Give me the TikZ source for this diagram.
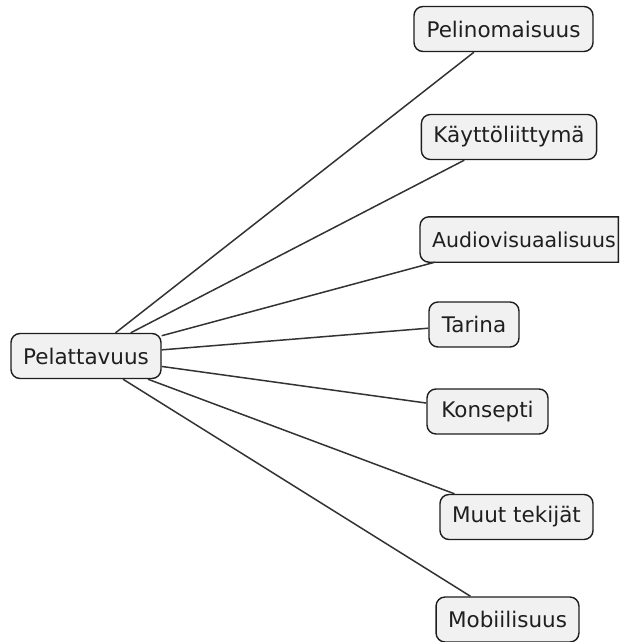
\documentclass[tikz,border=0pt]{standalone}
\usepackage{fontspec}
\setmainfont{DejaVu Sans}
\begin{document}
\begin{tikzpicture}[x=1pt,y=-1pt,
  label font/.style={font=\fontsize{21.5}{25}\selectfont, text=black!88},
  topic/.style={draw=boxedge, fill=boxfill, line width=1.4pt, rounded corners=9pt,
    minimum height=45pt, inner xsep=12pt, inner ysep=0pt, label font},
  link/.style={draw=linkcol, line width=1.5pt}]
\definecolor{boxedge}{HTML}{1E1E1E}
\definecolor{boxfill}{HTML}{F1F1F1}
\definecolor{linkcol}{HTML}{333333}
\useasboundingbox (0,0) rectangle (622,642);

% root
\node[topic, minimum width=150pt] (root) at (86,356) {Pelattavuus};

% branches
\node[topic, minimum width=179pt] (b1) at (503.5,29) {Pelinomaisuus};
\node[topic, minimum width=172pt] (b2) at (509,137) {Käyttöliittymä};
\node[anchor=west, inner sep=0pt, minimum height=45pt, minimum width=198pt]
  (b3) at (420,239.5) {};
\node[topic, minimum width=90pt] (b4) at (474,324.5) {Tarina};
\node[topic, minimum width=121pt] (b5) at (487.5,411.5) {Konsepti};
\node[topic, minimum width=153pt] (b6) at (516.5,517) {Muut tekijät};
\node[topic, minimum width=141pt] (b7) at (507.5,619.5) {Mobiilisuus};

% the wide box runs into the right margin and is cut square there
\draw[draw=boxedge, fill=boxfill, line width=1.4pt]
  (b3.north east) [rounded corners=9pt] -- (b3.north west) -- (b3.south west)
  [sharp corners] -- (b3.south east) -- cycle;
\node[anchor=west, inner xsep=12pt, inner ysep=0pt, label font,
      font=\fontsize{20.5}{24}\selectfont] (b3text) at (b3.west) {Audiovisuaalisuus};

% connectors
\foreach \b in {b1,b2,b3,b4,b5,b6,b7}
  \draw[link] (root) -- (\b);
\end{tikzpicture}
\end{document}
